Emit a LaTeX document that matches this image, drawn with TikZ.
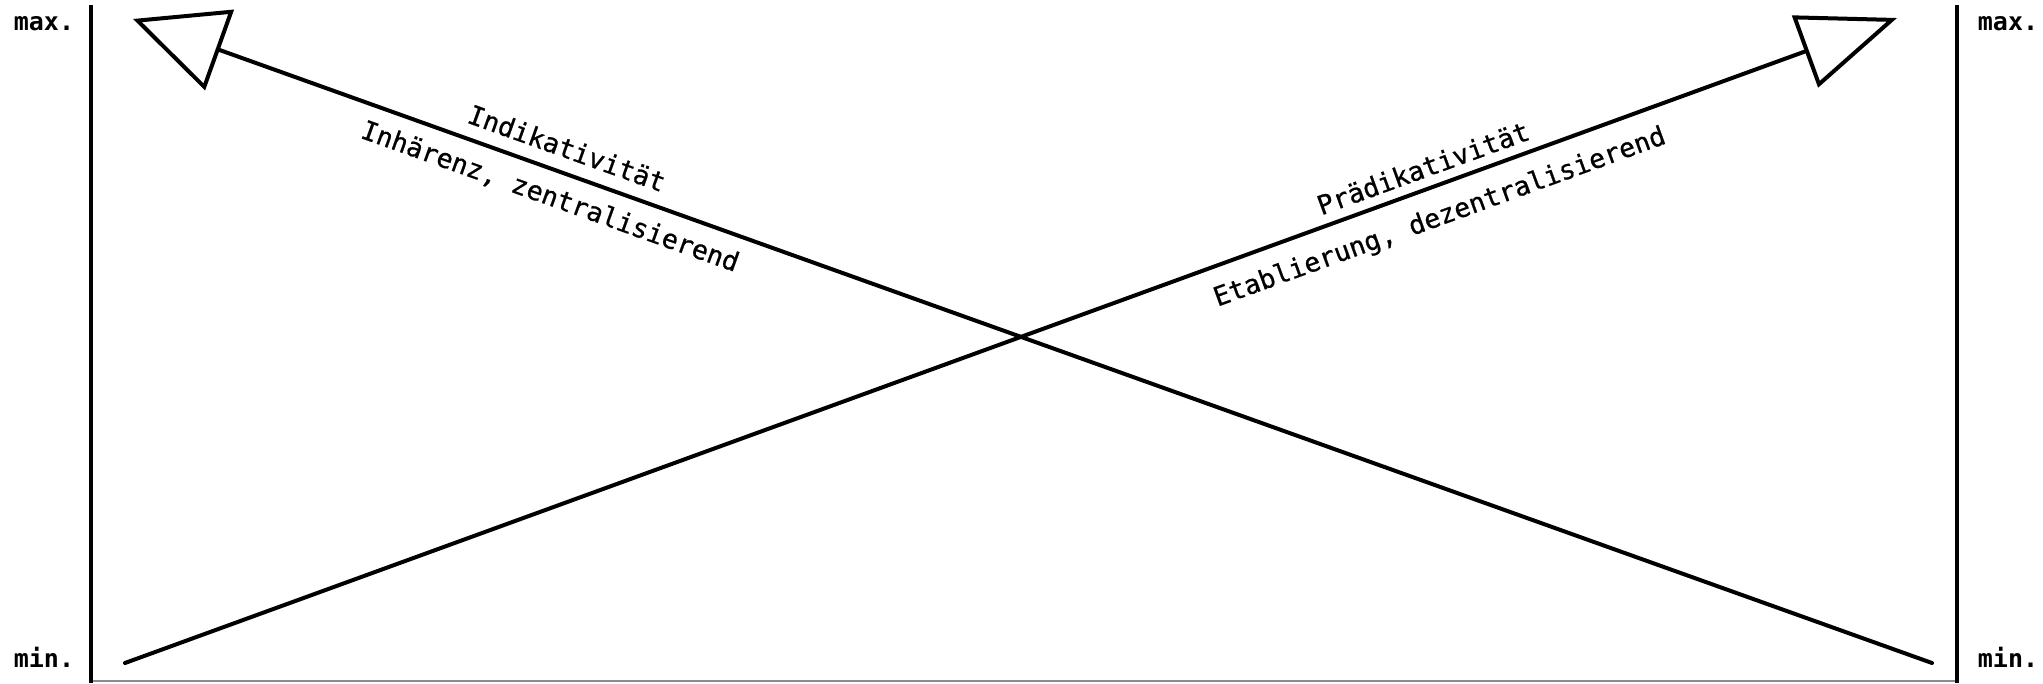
\documentclass[tikz,border=0pt]{standalone}
\usepackage{fontspec}
\setmonofont{DejaVu Sans Mono}
\newfontfamily\labelfont{DejaVu Sans Mono}[FakeBold=0.7]
\usetikzlibrary{arrows.meta}
\begin{document}
\begin{tikzpicture}[x=1pt,y=-1pt,
  axis/.style={line width=3.5pt},
  floor/.style={line width=1.5pt, draw=black!45},
  bar/.style={line width=4pt, line cap=round},
  lbl/.style={font=\fontsize{26.5}{30}\selectfont\labelfont, inner sep=0pt},
  endlbl/.style={font=\fontsize{25}{28}\selectfont\ttfamily\bfseries, inner sep=0pt}]
\useasboundingbox (0,0) rectangle (2043,683);
% axes
\coordinate (LT) at (91,5);
\coordinate (LB) at (91,683);
\coordinate (RT) at (1957,5);
\coordinate (RB) at (1957,683);
\coordinate (LF) at (91,681);
\coordinate (RF) at (1957,681);
\draw[floor] (LF) -- (RF);
\draw[axis] (LT) -- (LB);
\draw[axis] (RT) -- (RB);
% arrows
\coordinate (A1s) at (1932,663);
\coordinate (A1t) at (133,19);
\coordinate (A2s) at (125,663);
\coordinate (A2t) at (1897,18);
\draw[bar, -{Triangle[open,length=92pt,width=85pt]}] (A1s) -- (A1t);
\draw[bar, -{Triangle[open,length=98pt,width=76pt]}] (A2s) -- (A2t);
% labels
\node[lbl, rotate=-19.7] (ind) at (567,148) {Indikativität};
\node[lbl, rotate=-19.7] (inh) at (550,197) {Inhärenz, zentralisierend};
\node[lbl, rotate=20] (pra) at (1423,168) {Prädikativität};
\node[lbl, rotate=20] (eta) at (1440,218) {Etablierung, dezentralisierend};
% scale ends
\node[endlbl] (maxL) at (44,24) {max.};
\node[endlbl] (minL) at (44,657) {min.};
\node[endlbl] (maxR) at (2008,24) {max.};
\node[endlbl] (minR) at (2008,657) {min.};
\end{tikzpicture}
\end{document}
